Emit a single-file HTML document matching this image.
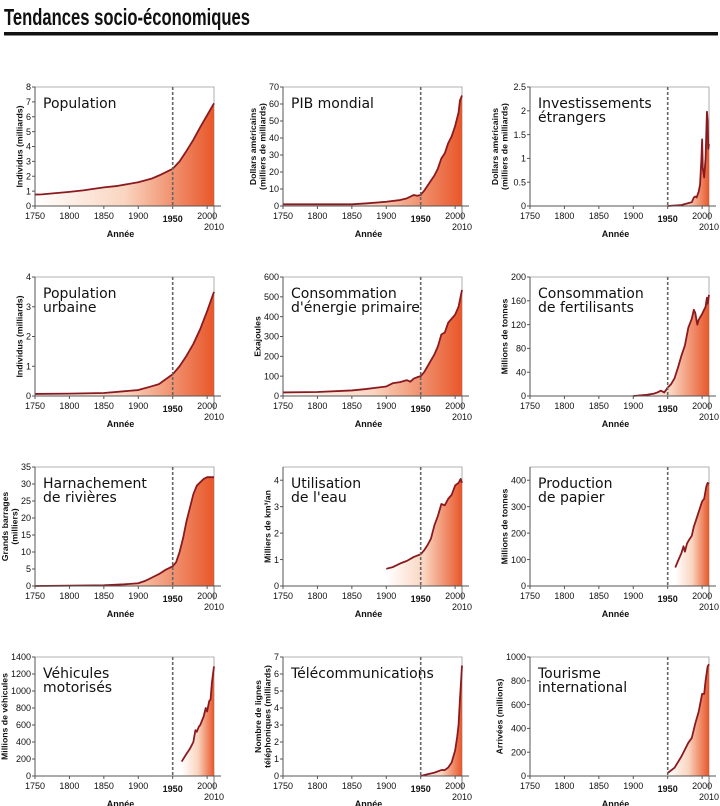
<!DOCTYPE html>
<html><head><meta charset="utf-8">
<style>
html,body{margin:0;padding:0;background:#fff;}
svg{display:block;font-family:"Liberation Sans","DejaVu Sans",sans-serif;}
.tick{font-size:9px;fill:#111;}
.ptitle{font-family:"DejaVu Sans","Liberation Sans",sans-serif;font-size:14px;fill:#111;}
.ylab{font-size:8.7px;font-weight:bold;fill:#111;}
.xlab{font-size:9px;font-weight:bold;fill:#111;}
</style></head>
<body>
<svg id="chart" width="720" height="806" viewBox="0 0 720 806">
<defs>
<linearGradient id="fillGrad" x1="0" y1="0" x2="1" y2="0">
<stop offset="0" stop-color="#ffffff"/>
<stop offset="0.5" stop-color="#fad5c0"/>
<stop offset="1" stop-color="#e8572a"/>
</linearGradient>
</defs>
<text x="4" y="25" font-size="23" font-weight="bold" textLength="246" lengthAdjust="spacingAndGlyphs" fill="#111">Tendances socio-économiques</text>
<rect x="4" y="32" width="714" height="3.5" fill="#111"/>
</svg>
<script>
// ---- data arrays ----
const popYears = [1750,1760,1800,1820,1850,1870,1900,1920,1930,1950,1960,1970,1980,1990,2000,2010];
const popValues = [0.77,0.78,0.95,1.05,1.25,1.35,1.6,1.85,2.05,2.5,3.0,3.7,4.45,5.3,6.1,6.9];
const gdpYears = [1750,1850,1870,1900,1920,1930,1940,1945,1950,1955,1960,1970,1975,1980,1985,1990,1995,2000,2005,2007,2010];
const gdpValues = [1,1,1.5,2.5,3.5,4.5,6.5,6,6.5,9,12,18,22,28,31,37,41,47,55,62,65];
const fdiYears = [1950,1970,1980,1985,1988,1990,1992,1995,1997,1999,2000,2001,2003,2005,2007,2008,2009,2010];
const fdiValues = [0,0.02,0.06,0.08,0.18,0.2,0.18,0.3,0.45,1.0,1.4,0.8,0.6,1.0,1.98,1.8,1.2,1.3];
const urbYears = [1750,1800,1850,1900,1920,1930,1950,1960,1970,1980,1990,2000,2010];
const urbValues = [0.07,0.08,0.1,0.2,0.33,0.4,0.73,1.0,1.35,1.75,2.25,2.85,3.5];
const nrgYears = [1750,1800,1850,1870,1900,1910,1920,1930,1935,1940,1945,1950,1955,1960,1970,1975,1980,1985,1990,2000,2005,2010];
const nrgValues = [18,20,28,35,48,65,70,80,72,88,95,100,120,150,210,250,310,320,370,410,450,535];
const ferYears = [1900,1910,1920,1930,1935,1940,1945,1950,1955,1960,1965,1970,1975,1980,1985,1988,1990,1993,1995,2000,2005,2007,2008,2010];
const ferValues = [0,1,2,4,6,9,6,14,20,30,48,68,85,115,130,145,140,120,128,138,150,165,155,170];
const damYears = [1750,1850,1880,1900,1910,1920,1930,1940,1950,1955,1960,1965,1970,1975,1980,1985,1990,1995,2000,2010];
const damValues = [0,0.2,0.5,0.8,1.5,2.5,3.5,4.8,5.8,7,10,14,19,23,27,29.5,30.5,31.5,32,32];
const watYears = [1900,1910,1920,1930,1940,1950,1955,1960,1965,1970,1975,1980,1985,1990,1995,2000,2005,2008,2010];
const watValues = [0.65,0.72,0.85,0.95,1.1,1.2,1.35,1.55,1.8,2.3,2.65,3.1,3.05,3.3,3.45,3.8,3.9,4.05,3.9];
const papYears = [1961,1965,1970,1973,1975,1978,1980,1985,1988,1990,1995,2000,2003,2006,2008,2010];
const papValues = [70,95,125,150,130,160,170,190,225,240,280,320,330,375,390,385];
const vehYears = [1963,1970,1975,1980,1983,1985,1988,1990,1995,1998,2000,2003,2005,2007,2010];
const vehValues = [170,260,320,400,540,520,580,600,700,800,760,880,900,1100,1290];
const telYears = [1950,1960,1970,1980,1985,1990,1995,2000,2003,2005,2007,2009,2010];
const telValues = [0,0.1,0.2,0.35,0.35,0.5,0.8,1.5,2.3,3,4.5,5.8,6.5];
const touYears = [1950,1960,1970,1980,1985,1990,1995,2000,2003,2005,2008,2010];
const touValues = [25,70,165,280,320,440,540,690,690,800,920,940];
const xTickLabels = ["1750","1800","1850","1900","1950","2000"];
const xTickYears = [1750,1800,1850,1900,1950,2000];

const panels = [
 {name:"population",title:["Population"],ylab:["Individus (milliards)"],ymax:8,ticks:[0,1,2,3,4,5,6,7,8],x:[popYears,popValues]},
 {name:"gdp",title:["PIB mondial"],ylab:["Dollars américains","(milliers de milliards)"],ymax:70,ticks:[0,10,20,30,40,50,60,70],x:[gdpYears,gdpValues]},
 {name:"foreign-investment",title:["Investissements","étrangers"],ylab:["Dollars américains","(milliers de milliards)"],ymax:2.5,ticks:[0,0.5,1,1.5,2,2.5],x:[fdiYears,fdiValues]},
 {name:"urban-population",title:["Population","urbaine"],ylab:["Individus (milliards)"],ymax:4,ticks:[0,1,2,3,4],x:[urbYears,urbValues]},
 {name:"energy",title:["Consommation","d'énergie primaire"],ylab:["Exajoules"],ymax:600,ticks:[0,100,200,300,400,500,600],x:[nrgYears,nrgValues]},
 {name:"fertilizer",title:["Consommation","de fertilisants"],ylab:["Millions de tonnes"],ymax:200,ticks:[0,40,80,120,160,200],x:[ferYears,ferValues]},
 {name:"dams",title:["Harnachement","de rivières"],ylab:["Grands barrages","(milliers)"],ymax:35,ticks:[0,5,10,15,20,25,30,35],x:[damYears,damValues]},
 {name:"water-use",title:["Utilisation","de l'eau"],ylab:["Milliers de km³/an"],ymax:4.5,ticks:[0,1,2,3,4],x:[watYears,watValues]},
 {name:"paper",title:["Production","de papier"],ylab:["Millions de tonnes"],ymax:450,ticks:[0,100,200,300,400],x:[papYears,papValues]},
 {name:"vehicles",title:["Véhicules","motorisés"],ylab:["Millions de véhicules"],ymax:1400,ticks:[0,200,400,600,800,1000,1200,1400],x:[vehYears,vehValues]},
 {name:"telecom",title:["Télécommunications"],ylab:["Nombre de lignes","téléphoniques (milliards)"],ymax:7,ticks:[0,1,2,3,4,5,6,7],x:[telYears,telValues]},
 {name:"tourism",title:["Tourisme","international"],ylab:["Arrivées (millions)"],ymax:1000,ticks:[0,200,400,600,800,1000],x:[touYears,touValues]}
];

const NS="http://www.w3.org/2000/svg";
const svg=document.getElementById('chart');
const colX=[35,283,530], rowB=[206,396,586,776], PW=179, PH=119;
function mk(tag,attrs,parent){const e=document.createElementNS(NS,tag);for(const k in attrs)e.setAttribute(k,attrs[k]);(parent||svg).appendChild(e);return e;}

panels.forEach((p,i)=>{
  const x0=colX[i%3], y0=rowB[Math.floor(i/3)], top=y0-PH;
  const g=mk('g',{});
  
  
  const sx=yr=>x0+(yr-1750)/(2010-1750)*PW;
  const sy=v=>y0-v/p.ymax*PH;
  const yrs=p.x[0], vals=p.x[1];
  const fr=mk('path',{d:`M${x0},${top}H${x0+PW}V${y0}`,fill:'none',stroke:'#999','stroke-width':0.8},g);
  
  
  let d=`M${sx(yrs[0])},${y0}`;
  yrs.forEach((y,j)=>{d+=`L${sx(y).toFixed(2)},${sy(vals[j]).toFixed(2)}`;});
  d+=`L${sx(yrs[yrs.length-1])},${y0}Z`;
  const area=mk('path',{d:d,fill:'url(#fillGrad)'},g);
  
  
  let ld='';
  yrs.forEach((y,j)=>{ld+=(j?'L':'M')+sx(y).toFixed(2)+','+sy(vals[j]).toFixed(2);});
  const line=mk('path',{d:ld,fill:'none',stroke:'#8a1a1f','stroke-width':1.8,'stroke-linejoin':'round'},g);
  
  
  const dl=mk('line',{x1:sx(1950),x2:sx(1950),y1:top,y2:y0,stroke:'#666','stroke-width':1.6,'stroke-dasharray':'3,2'},g);
  
  
  const ax=mk('path',{d:`M${x0},${top}V${y0}H${x0+PW+7}`,fill:'none',stroke:'#555','stroke-width':1},g);
  
  
  let maxLen=0;
  p.ticks.forEach(t=>{
    mk('line',{x1:x0-3,x2:x0,y1:sy(t),y2:sy(t),stroke:'#555','stroke-width':1},g);
    const tl=mk('text',{x:x0-4,y:sy(t)+3.2,'text-anchor':'end',class:'tick'},g);
    tl.textContent=String(t);
    maxLen=Math.max(maxLen,String(t).length);
    
    
  });
  xTickYears.forEach((yr,j)=>{
    mk('line',{x1:sx(yr),x2:sx(yr),y1:y0,y2:y0+3,stroke:'#555','stroke-width':1},g);
    const is50=yr===1950;
    const tl=mk('text',{x:sx(yr),y:y0+(is50?16:13),'text-anchor':'middle',class:'tick'},g);
    if(is50){tl.setAttribute('font-size','12.5');tl.setAttribute('font-weight','bold');tl.setAttribute('fill','#808080');}
    tl.textContent=xTickLabels[j];
    
    
  });
  mk('line',{x1:sx(2010),x2:sx(2010),y1:y0,y2:y0+14,stroke:'#555','stroke-width':0.8},g);
  const t10=mk('text',{x:sx(2010),y:y0+24,'text-anchor':'middle',class:'tick'},g);
  t10.textContent='2010';
  
  
  const xl=mk('text',{x:x0+PW/2-4,y:y0+31,'text-anchor':'middle',class:'xlab'},g);
  xl.textContent='Année';
  
  
  const cy=top+PH/2, n=p.ylab.length;
  const base=x0-6-maxLen*5-1.5;
  p.ylab.forEach((s,j)=>{
    const lx = n===1 ? base : (j===0 ? base-9.5 : base);
    const yl=mk('text',{x:lx,y:cy,'text-anchor':'middle',class:'ylab',transform:`rotate(-90 ${lx} ${cy})`},g);
    yl.textContent=s;
    
    
  });
  p.title.forEach((s,j)=>{
    const tt=mk('text',{x:x0+8,y:top+21+j*14,class:'ptitle'},g);
    tt.textContent=s;
    
    
  });
});
</script>
</body></html>
